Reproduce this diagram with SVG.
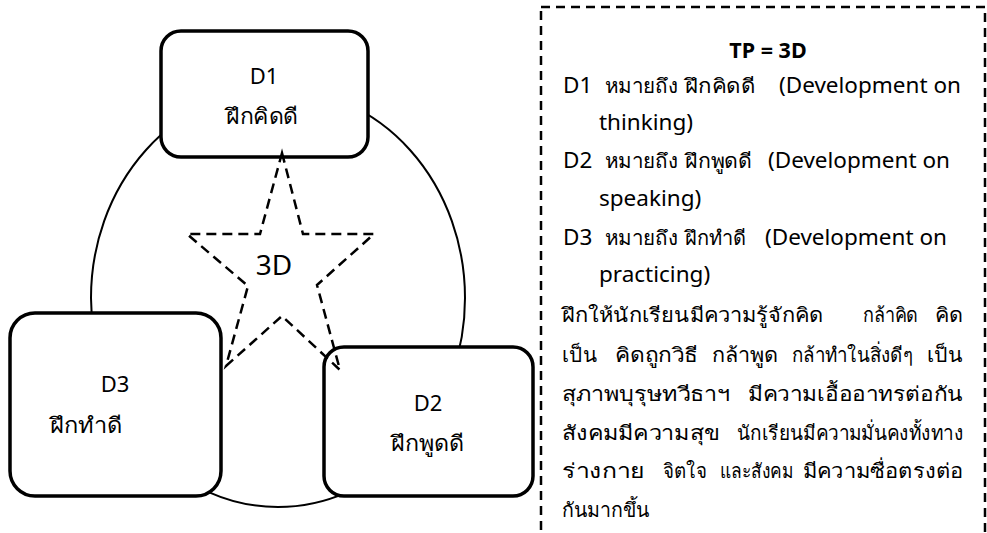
<svg xmlns="http://www.w3.org/2000/svg" width="987" height="533" viewBox="0 0 987 533">
<style>
.box{fill:#fff;stroke:#000;stroke-width:3.5}
.ring{fill:none;stroke:#000;stroke-width:2}
.dash{fill:none;stroke:#000;stroke-width:2.5;stroke-dasharray:10 6}
.frame{fill:none;stroke:#000;stroke-width:2.5;stroke-dasharray:9 6}
text{font-family:"Noto Sans","Liberation Sans",sans-serif;fill:#000;font-size:22px}
.c{text-anchor:middle}
.big{font-size:28px}
.body{font-size:22.5px}
.th{font-size:20px}
.thb{font-size:22px}
.title{font-size:21.5px;font-weight:bold}
</style>
<rect width="987" height="533" fill="#fff"/>
<g id="connectors">
  <ellipse class="ring" cx="278" cy="298" rx="187" ry="209"/>
</g>
<g id="d1">
  <rect class="box" x="161" y="31" width="207" height="126" rx="20"/>
  <text class="c" x="264" y="84">D1</text>
  <text class="thb" x="226" y="124" textLength="72" lengthAdjust="spacingAndGlyphs">ฝึกคิดดี</text>
</g>
<g id="d3">
  <rect class="box" x="10" y="313" width="211" height="183" rx="25"/>
  <text class="c" x="115" y="392">D3</text>
  <text class="thb" x="50" y="433" textLength="72" lengthAdjust="spacingAndGlyphs">ฝึกทำดี</text>
</g>
<g id="d2">
  <rect class="box" x="324" y="347" width="209" height="149" rx="20"/>
  <text class="c" x="428" y="411">D2</text>
  <text class="thb" x="391" y="451" textLength="73" lengthAdjust="spacingAndGlyphs">ฝึกพูดดี</text>
</g>
<g id="star">
  <path class="dash" d="M282,153 L303,234 L374,234 L317,285 L340,370 L282,316 L226,366 L248,286 L187,234 L260,234 Z"/>
  <text class="c big" x="274" y="275">3D</text>
</g>
<g id="legend">
  <rect class="frame" x="541" y="7" width="444" height="560"/>
  <text class="c title" x="768" y="58">TP = 3D</text>
  <text class="body" x="563" y="93">D1</text>
  <text class="th" x="605" y="93" textLength="73" lengthAdjust="spacingAndGlyphs">หมายถึง</text>
  <text class="th" x="685" y="93" textLength="70" lengthAdjust="spacingAndGlyphs">ฝึกคิดดี</text>
  <text class="body" x="779" y="93">(Development on</text>
  <text class="body" x="599" y="130">thinking)</text>
  <text class="body" x="563" y="168">D2</text>
  <text class="th" x="605" y="168" textLength="73" lengthAdjust="spacingAndGlyphs">หมายถึง</text>
  <text class="th" x="685" y="168" textLength="67" lengthAdjust="spacingAndGlyphs">ฝึกพูดดี</text>
  <text class="body" x="768" y="168">(Development on</text>
  <text class="body" x="599" y="206">speaking)</text>
  <text class="body" x="563" y="245">D3</text>
  <text class="th" x="605" y="245" textLength="73" lengthAdjust="spacingAndGlyphs">หมายถึง</text>
  <text class="th" x="685" y="245" textLength="61" lengthAdjust="spacingAndGlyphs">ฝึกทำดี</text>
  <text class="body" x="765" y="245">(Development on</text>
  <text class="body" x="599" y="282">practicing)</text>
  <text class="th" x="562" y="322" textLength="261" lengthAdjust="spacingAndGlyphs">ฝึกให้นักเรียนมีความรู้จักคิด</text>
  <text class="th" x="863" y="322" textLength="55" lengthAdjust="spacingAndGlyphs">กล้าคิด</text>
  <text class="th" x="935" y="322" textLength="28" lengthAdjust="spacingAndGlyphs">คิด</text>
  <text class="th" x="562" y="362" textLength="35" lengthAdjust="spacingAndGlyphs">เป็น</text>
  <text class="th" x="615" y="362" textLength="83" lengthAdjust="spacingAndGlyphs">คิดถูกวิธี</text>
  <text class="th" x="712" y="362" textLength="66" lengthAdjust="spacingAndGlyphs">กล้าพูด</text>
  <text class="th" x="792" y="362" textLength="121" lengthAdjust="spacingAndGlyphs">กล้าทำในสิ่งดีๆ</text>
  <text class="th" x="927" y="362" textLength="36" lengthAdjust="spacingAndGlyphs">เป็น</text>
  <text class="th" x="562" y="401" textLength="168" lengthAdjust="spacingAndGlyphs">สุภาพบุรุษทวีธาฯ</text>
  <text class="th" x="748" y="401" textLength="215" lengthAdjust="spacingAndGlyphs">มีความเอื้ออาทรต่อกัน</text>
  <text class="th" x="562" y="440" textLength="158" lengthAdjust="spacingAndGlyphs">สังคมมีความสุข</text>
  <text class="th" x="737" y="440" textLength="226" lengthAdjust="spacingAndGlyphs">นักเรียนมีความมั่นคงทั้งทาง</text>
  <text class="th" x="562" y="478" textLength="83" lengthAdjust="spacingAndGlyphs">ร่างกาย</text>
  <text class="th" x="663" y="478" textLength="44" lengthAdjust="spacingAndGlyphs">จิตใจ</text>
  <text class="th" x="720" y="478" textLength="73" lengthAdjust="spacingAndGlyphs">และสังคม</text>
  <text class="th" x="803" y="478" textLength="160" lengthAdjust="spacingAndGlyphs">มีความซื่อตรงต่อ</text>
  <text class="th" x="562" y="517" textLength="88" lengthAdjust="spacingAndGlyphs">กันมากขึ้น</text>
</g>
</svg>
